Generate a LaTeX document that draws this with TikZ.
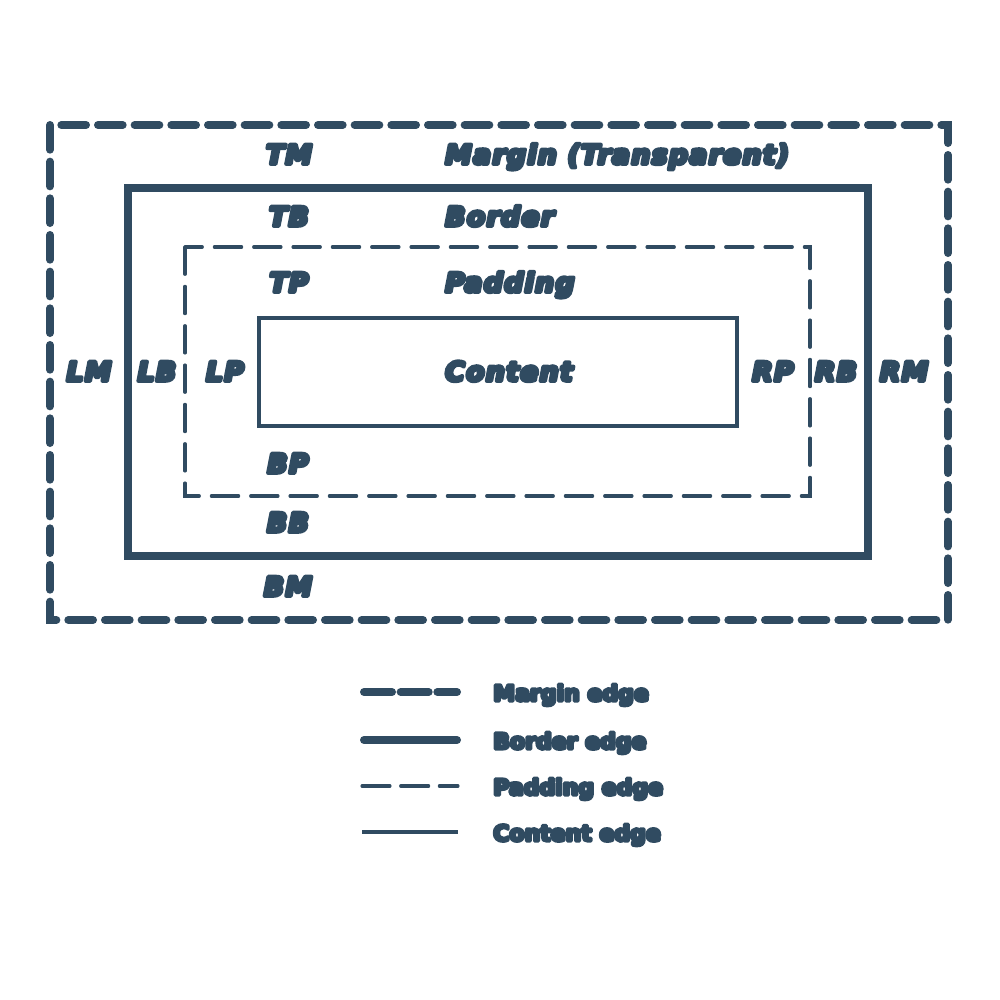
\documentclass[tikz,border=0pt]{standalone}
\usepackage{fontspec}
\newfontfamily\lblfont{DejaVu Sans Bold Oblique}[LetterSpace=5]
\newfontfamily\legfont{DejaVu Sans Bold}
\definecolor{ink}{HTML}{304B61}
\newcommand\heavy[2][2.8]{\special{pdf:literal direct 2 Tr #1 w 1 j}#2\special{pdf:literal direct 0 Tr 0.3985 w 0 j}}
\tikzset{
  marginedge/.style={draw=ink, line width=6pt, line cap=round, dash pattern=on 18.5pt off 9pt},
  borderedge/.style={draw=ink, line width=6pt, line cap=butt},
  paddingedge/.style={draw=ink, line width=2.3pt, line cap=round, dash pattern=on 20.5pt off 9pt},
  contentedge/.style={draw=ink, line width=2.3pt},
  lbl/.style={text=ink, font=\lblfont\fontsize{20}{24}\selectfont, inner sep=0pt},
  leg/.style={text=ink, font=\legfont\fontsize{16.5}{22}\selectfont, inner sep=0pt, anchor=base west},
}
\begin{document}
\begin{tikzpicture}[x=0.75pt,y=-0.75pt]
\useasboundingbox (0,0) rectangle (1000,1000);
% boxes
\draw[marginedge] (50,125) rectangle (948,620);
\draw[borderedge] (128,188) rectangle (868,556);
\draw[paddingedge] (185,247) rectangle (810,496);
\draw[contentedge] (259,318) rectangle (737,426);
% top labels
\node[lbl, anchor=base] (tm) at (289,164) {\heavy{TM}};
\node[lbl, anchor=base] (tb) at (289,226) {\heavy{TB}};
\node[lbl, anchor=base] (tp) at (289,292) {\heavy{TP}};
\node[lbl, anchor=base west] (mt) at (445,164) {\heavy{Margin (Transparent)}};
\node[lbl, anchor=base west] (bo) at (445,226) {\heavy{Border}};
\node[lbl, anchor=base west] (pa) at (445,292) {\heavy{Padding}};
\node[lbl, anchor=base west] (co) at (445,381) {\heavy{Content}};
% side labels
\node[lbl, anchor=base] (lm) at (89,381) {\heavy{LM}};
\node[lbl, anchor=base] (lb) at (157,381) {\heavy{LB}};
\node[lbl, anchor=base] (lp) at (225,381) {\heavy{LP}};
\node[lbl, anchor=base] (rp) at (773,381) {\heavy{RP}};
\node[lbl, anchor=base] (rb) at (836,381) {\heavy{RB}};
\node[lbl, anchor=base] (rm) at (904,381) {\heavy{RM}};
% bottom labels
\node[lbl, anchor=base] (bp) at (288,473) {\heavy{BP}};
\node[lbl, anchor=base] (bb) at (288,532) {\heavy{BB}};
\node[lbl, anchor=base] (bm) at (288,596) {\heavy{BM}};
% legend
\coordinate (m1) at (364,692); \coordinate (m2) at (457,692);
\coordinate (b1) at (364,740); \coordinate (b2) at (457,740);
\coordinate (p1) at (362,786); \coordinate (p2) at (458,786);
\coordinate (c1) at (362,832); \coordinate (c2) at (458,832);
\draw[marginedge, dash pattern=on 21pt off 6.5pt] (m1) -- (m2);
\draw[borderedge, line cap=round] (b1) -- (b2);
\draw[paddingedge, dash pattern=on 21pt off 8pt] (p1) -- (p2);
\draw[contentedge] (c1) -- (c2);
\node[leg] (lgm) at (493,701) {\heavy[2.4]{Margin edge}};
\node[leg] (lgb) at (493,749) {\heavy[2.4]{Border edge}};
\node[leg] (lgp) at (493,795) {\heavy[2.4]{Padding edge}};
\node[leg] (lgc) at (493,841) {\heavy[2.4]{Content edge}};
\end{tikzpicture}
\end{document}
